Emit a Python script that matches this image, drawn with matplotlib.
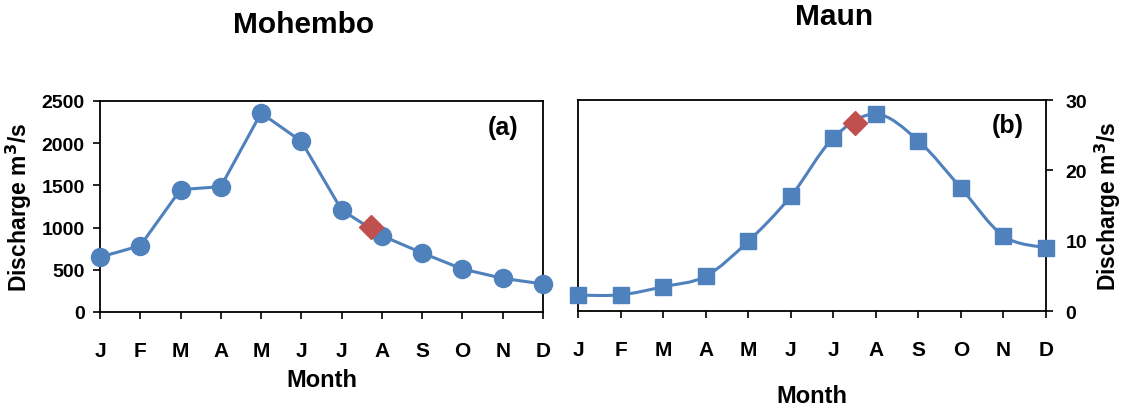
import matplotlib.pyplot as plt
from matplotlib.path import Path
from matplotlib.patches import PathPatch

plt.rcParams['font.family'] = ['Liberation Sans', 'DejaVu Sans']
plt.rcParams['font.weight'] = 'bold'

# Data
months = ['J', 'F', 'M', 'A', 'M', 'J', 'J', 'A', 'S', 'O', 'N', 'D']
mohembo = [650, 785, 1450, 1485, 2358, 2022, 1208, 904, 699, 509, 399, 332]
maun = [2.26, 2.3, 3.45, 4.95, 9.9, 16.3, 24.6, 28.0, 24.2, 17.5, 10.66, 9.0]
# red diamond (position between months, value)
mohembo_mark = (6.74, 1003)
maun_mark = (6.5, 26.8)

blue = '#4F81BD'
red = '#C0504D'

fig = plt.figure(figsize=(11.21, 4.06), dpi=100)
ax1 = fig.add_axes([0.0892, 0.2291, 0.3952, 0.5197])
ax2 = fig.add_axes([0.5156, 0.2315, 0.4175, 0.5197])

x = list(range(len(months)))

# (a) Mohembo - straight lines with circles
ax1.plot(x, mohembo, color=blue, lw=2.2, marker='o', ms=13, clip_on=False, zorder=3)
ax1.plot(*mohembo_mark, marker='D', color=red, ms=12, ls='none', zorder=4)
ax1.set_ylim(0, 2500)
ax1.set_yticks([0, 500, 1000, 1500, 2000, 2500])
ax1.set_ylabel('Discharge m$^3$/s', fontsize=16.5, fontweight='bold')
ax1.yaxis.set_label_coords(-0.15, 0.5)
ax1.text(0.945, 0.875, '(a)', transform=ax1.transAxes, fontsize=18, ha='right', va='center')
ax1.set_xlabel('Month', fontsize=17, fontweight='bold', labelpad=6)

# (b) Maun - smoothed line with squares
pts = list(zip(x, maun))
verts = [pts[0]]
codes = [Path.MOVETO]
for i in range(len(pts) - 1):
    p0 = pts[i - 1] if i > 0 else pts[i]
    p1, p2 = pts[i], pts[i + 1]
    p3 = pts[i + 2] if i + 2 < len(pts) else pts[i + 1]
    c1 = (p1[0] + (p2[0] - p0[0]) / 6, p1[1] + (p2[1] - p0[1]) / 6)
    c2 = (p2[0] - (p3[0] - p1[0]) / 6, p2[1] - (p3[1] - p1[1]) / 6)
    verts += [c1, c2, p2]
    codes += [Path.CURVE4] * 3
ax2.add_patch(PathPatch(Path(verts, codes), fc='none', ec=blue, lw=2.2, zorder=2))
ax2.plot(x, maun, color=blue, ls='none', marker='s', ms=12, clip_on=False, zorder=3)
ax2.plot(*maun_mark, marker='D', color=red, ms=12, ls='none', zorder=4)
ax2.set_ylim(0, 30)
ax2.set_yticks([0, 10, 20, 30])
ax2.yaxis.tick_right()
ax2.yaxis.set_label_position('right')
ax2.set_ylabel('Discharge m$^3$/s', fontsize=16.5, fontweight='bold')
ax2.yaxis.set_label_coords(1.1, 0.5)
ax2.text(0.953, 0.88, '(b)', transform=ax2.transAxes, fontsize=18, ha='right', va='center')
ax2.set_xlabel('Month', fontsize=17, fontweight='bold', labelpad=18)

# titles
fig.text(0.271, 0.938, 'Mohembo', fontsize=21.5, fontweight='bold', ha='center', va='center')
fig.text(0.744, 0.958, 'Maun', fontsize=21.5, fontweight='bold', ha='center', va='center')

for ax in (ax1, ax2):
    ax.set_xlim(0, 11)
    ax.set_xticks(x)
    ax.set_xticklabels(months)
    for s in ax.spines.values():
        s.set_linewidth(1.3)
    ax.tick_params(axis='x', direction='out', length=5, width=1.2, pad=16, labelsize=15)
    ax.tick_params(axis='y', direction='out', length=5, width=1.2, pad=6, labelsize=14)
ax2.tick_params(axis='y', pad=9)

fig.savefig('out.png', dpi=100)
